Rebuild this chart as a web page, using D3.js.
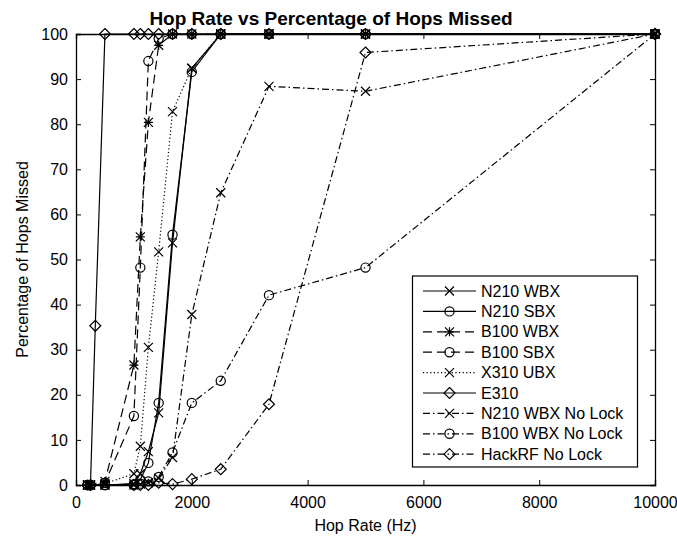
<!DOCTYPE html>
<html lang="en">
<head>
<meta charset="UTF-8">
<title>Hop Rate vs Percentage of Hops Missed</title>
<script src="https://cdnjs.cloudflare.com/ajax/libs/d3/7.8.2/d3.min.js"></script>
<style>
    body { margin: 0; background: #fff; font-family: "Liberation Sans", Arial, sans-serif; }
    svg text { fill: #000; }
</style>
</head>
<body>
<div id="chart"></div>
<script>
    // hop rates (Hz) shared by most runs
    const rates = [200, 250, 500, 1000, 1111, 1250, 1428, 1667, 2000, 2500, 3333, 5000, 10000];

    const n210Wbx   = [0, 0, 0, 0.3, 2.5, 7.4, 16, 53.7, 92.4, 100, 100, 100, 100];
    const n210Sbx   = [0, 0, 0, 0.2, 1.2, 4.9, 18.2, 55.5, 91.6, 100, 100, 100, 100];
    const b100Wbx   = [0, 0, 0.8, 26.6, 55, 80.4, 97.5, 100, 100, 100, 100, 100, 100];
    const b100Sbx   = [0, 0, 0.5, 15.3, 48.2, 94, 99, 100, 100, 100, 100, 100, 100];
    const x310Ubx   = [0, 0, 0.3, 2.5, 8.6, 30.5, 51.7, 82.8, 92.4, 100, 100, 100, 100];
    const n210WbxNL = [0, 0, 0, 0, 0.2, 0.5, 1.5, 6.1, 37.8, 64.8, 88.4, 87.3, 100];
    const b100WbxNL = [0, 0, 0, 0, 0.3, 0.8, 1.8, 7.2, 18.2, 23.1, 42.1, 48.2, 100];

    const e310Rates = [250, 333, 500, 1000, 1111, 1250, 1428, 1667, 2000, 2500, 3333, 5000, 10000];
    const e310      = [0, 35.3, 100, 100, 100, 100, 100, 100, 100, 100, 100, 100, 100];

    const hackRates = [1000, 1111, 1250, 1428, 1667, 2000, 2500, 3333, 5000, 10000];
    const hackrfNL  = [0, 0, 0, 0.5, 0.2, 1.3, 3.5, 17.9, 95.9, 100];

    const xTicks = [0, 2000, 4000, 6000, 8000, 10000];
    const yTicks = [0, 10, 20, 30, 40, 50, 60, 70, 80, 90, 100];

    const series = [
        { name: "N210 WBX", x: rates, y: n210Wbx, marker: "x", dash: null },
        { name: "N210 SBX", x: rates, y: n210Sbx, marker: "o", dash: null },
        { name: "B100 WBX", x: rates, y: b100Wbx, marker: "*", dash: "9,5" },
        { name: "B100 SBX", x: rates, y: b100Sbx, marker: "o", dash: "9,5" },
        { name: "X310 UBX", x: rates, y: x310Ubx, marker: "x", dash: "1.2,2.4" },
        { name: "E310", x: e310Rates, y: e310, marker: "d", dash: null },
        { name: "N210 WBX No Lock", x: rates, y: n210WbxNL, marker: "x", dash: "7,3,1.5,3" },
        { name: "B100 WBX No Lock", x: rates, y: b100WbxNL, marker: "o", dash: "7,3,1.5,3" },
        { name: "HackRF No Lock", x: hackRates, y: hackrfNL, marker: "d", dash: "7,3,1.5,3" }
    ];

    const width = 677, height = 537;
    const margin = { left: 76, right: 22, top: 34, bottom: 52 };

    const svg = d3.select("#chart").append("svg")
        .attr("width", width)
        .attr("height", height);

    const x = d3.scaleLinear().domain([0, 10000]).range([margin.left, width - margin.right]);
    const y = d3.scaleLinear().domain([0, 100]).range([height - margin.bottom, margin.top]);

    // axes with inward ticks on all sides
    const tick = 5;
    svg.append("g")
        .attr("transform", `translate(0,${y(0)})`)
        .call(d3.axisBottom(x).tickValues(xTicks).tickSize(-tick).tickPadding(12).tickFormat(d3.format("d")));
    svg.append("g")
        .attr("transform", `translate(0,${y(100)})`)
        .call(d3.axisTop(x).tickValues(xTicks).tickSize(-tick).tickFormat(""));
    svg.append("g")
        .attr("transform", `translate(${x(0)},0)`)
        .call(d3.axisLeft(y).tickValues(yTicks).tickSize(-tick).tickPadding(8));
    svg.append("g")
        .attr("transform", `translate(${x(10000)},0)`)
        .call(d3.axisRight(y).tickValues(yTicks).tickSize(-tick).tickFormat(""));

    svg.selectAll(".domain").attr("stroke", "#000").attr("stroke-width", 1.3);
    svg.selectAll(".tick line").attr("stroke", "#000");
    svg.selectAll(".tick text")
        .attr("font-family", "Liberation Sans, Arial, sans-serif")
        .attr("font-size", 16);

    // marker drawing
    function drawMarker(g, type, cx, cy) {
        const s = 4.5;
        if (type === "x" || type === "*") {
            g.append("path")
                .attr("d", `M${cx - s},${cy - s}L${cx + s},${cy + s}M${cx - s},${cy + s}L${cx + s},${cy - s}` +
                    (type === "*" ? `M${cx - s},${cy}L${cx + s},${cy}M${cx},${cy - s}L${cx},${cy + s}` : ""))
                .attr("stroke", "#000").attr("stroke-width", 1.2).attr("fill", "none");
        } else if (type === "o") {
            g.append("circle").attr("cx", cx).attr("cy", cy).attr("r", 4.6)
                .attr("stroke", "#000").attr("stroke-width", 1.2).attr("fill", "none");
        } else if (type === "d") {
            const r = 5.5;
            g.append("path")
                .attr("d", `M${cx},${cy - r}L${cx + r},${cy}L${cx},${cy + r}L${cx - r},${cy}Z`)
                .attr("stroke", "#000").attr("stroke-width", 1.2).attr("fill", "none");
        }
    }

    const line = d3.line().x(d => x(d[0])).y(d => y(d[1]));

    const plot = svg.append("g");
    series.forEach(s => {
        const pts = s.x.map((v, i) => [v, s.y[i]]);
        plot.append("path")
            .datum(pts)
            .attr("d", line)
            .attr("fill", "none")
            .attr("stroke", "#000")
            .attr("stroke-width", 1.2)
            .attr("stroke-dasharray", s.dash);
        const mg = plot.append("g");
        pts.forEach(p => drawMarker(mg, s.marker, x(p[0]), y(p[1])));
    });

    // title and axis labels
    svg.append("text")
        .attr("x", 331)
        .attr("y", 25)
        .attr("text-anchor", "middle")
        .attr("font-size", 19)
        .attr("font-weight", "bold")
        .text("Hop Rate vs Percentage of Hops Missed");

    svg.append("text")
        .attr("x", (x(0) + x(10000)) / 2)
        .attr("y", 531)
        .attr("text-anchor", "middle")
        .attr("font-size", 16)
        .text("Hop Rate (Hz)");

    svg.append("text")
        .attr("transform", `translate(28,${(y(0) + y(100)) / 2}) rotate(-90)`)
        .attr("text-anchor", "middle")
        .attr("font-size", 16)
        .text("Percentage of Hops Missed");

    // legend
    const lg = svg.append("g");
    lg.append("rect")
        .attr("x", 412.5).attr("y", 276)
        .attr("width", 225).attr("height", 191)
        .attr("fill", "#fff").attr("stroke", "#000").attr("stroke-width", 1.2);
    series.forEach((s, i) => {
        const ly = 291 + i * 20.4;
        lg.append("line")
            .attr("x1", 423).attr("x2", 476)
            .attr("y1", ly).attr("y2", ly)
            .attr("stroke", "#000").attr("stroke-width", 1.2)
            .attr("stroke-dasharray", s.dash);
        drawMarker(lg, s.marker, 449.5, ly);
        lg.append("text")
            .attr("x", 481).attr("y", ly + 5.5)
            .attr("font-size", 16)
            .text(s.name);
    });
</script>
</body>
</html>
